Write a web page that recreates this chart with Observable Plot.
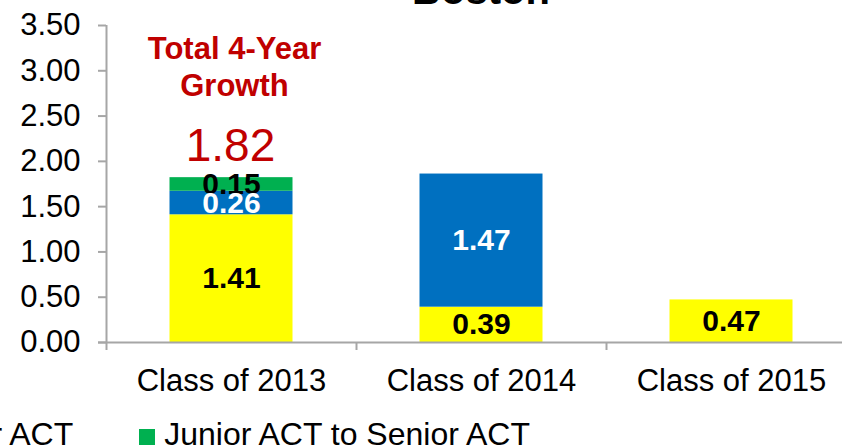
<!DOCTYPE html>
<html>
<head>
<meta charset="utf-8">
<script src="https://cdn.jsdelivr.net/npm/d3@7"></script>
<script src="https://cdn.jsdelivr.net/npm/@observablehq/plot@0.6"></script>
<style>
  html, body { margin: 0; padding: 0; background: #fff; }
  #wrap { position: relative; width: 842px; height: 448px; overflow: hidden; background: #fff;
          font-family: "Liberation Sans", Arial, sans-serif; color: #000; }
  #title { position: absolute; left: 0; top: -30px; width: 962px; text-align: center;
           font-size: 40px; line-height: 40px; font-weight: bold; white-space: nowrap; }
  #chart { position: absolute; left: 0; top: 0; }
  #legend { position: absolute; top: 418px; left: 0; display: flex; gap: 66px; white-space: nowrap;
            font-size: 32px; line-height: 32px; }
  .sw { display: inline-block; width: 16px; height: 16px; margin-right: 9px; }
</style>
</head>
<body>
<div id="wrap">
  <div id="title"></div>
  <div id="chart"></div>
  <div id="legend"></div>
</div>
<script>
// ---- data ----
const chartTitle = "Boston";
const classes = ["Class of 2013", "Class of 2014", "Class of 2015"];
const seriesNames = ["Freshman EXPLORE to Sophomore PLAN", "Sophomore PLAN to Junior ACT", "Junior ACT to Senior ACT"];
const seriesColors = ["#FFFF00", "#0070C0", "#00B050"];
const labelColors = ["#000000", "#FFFFFF", "#000000"];
const explorePlan = [1.41, 0.39, 0.47];
const planAct = [0.26, 1.47, null];
const actAct = [0.15, null, null];
const yTicks = [0, 0.5, 1, 1.5, 2, 2.5, 3, 3.5];
const annotationTitle = "Total 4-Year\nGrowth";
const annotationClass = "Class of 2013";

// ---- build rows ----
const seriesValues = [explorePlan, planAct, actAct];
const rows = [];
seriesValues.forEach((vals, s) => vals.forEach((v, i) => {
  if (v != null) rows.push({cls: classes[i], series: seriesNames[s], value: v, label: labelColors[s]});
}));
const total = d3.sum(rows.filter(r => r.cls === annotationClass), r => r.value);

document.getElementById("title").textContent = chartTitle;

const font = "'Liberation Sans', Arial, sans-serif";
const axisGray = "#a6a6a6";
const halfBand = 125;

const chart = Plot.plot({
  width: 842,
  height: 400,
  marginLeft: 106,
  marginRight: -14,
  marginTop: 25,
  marginBottom: 58,
  style: {fontFamily: font, background: "transparent"},
  x: {type: "band", domain: classes, padding: 0, axis: null, label: null},
  y: {domain: [0, 3.5], axis: null, label: null},
  color: {domain: seriesNames, range: seriesColors},
  marks: [
    Plot.barY(rows, {x: "cls", y: "value", fill: "series", order: seriesNames, insetLeft: 63.5, insetRight: 63.5}),
    Plot.text(rows, Plot.stackY({x: "cls", y: "value", z: "series", order: seriesNames,
      text: d => d.label === "#000000" ? d.value.toFixed(2) : null,
      fill: "#000", fontSize: 30, fontWeight: "bold", fontFamily: font})),
    Plot.text(rows, Plot.stackY({x: "cls", y: "value", z: "series", order: seriesNames,
      text: d => d.label === "#FFFFFF" ? d.value.toFixed(2) : null,
      fill: "#fff", fontSize: 30, fontWeight: "bold", fontFamily: font})),
    // axes
    Plot.axisY(yTicks, {tickFormat: d => d.toFixed(2), tickSize: 8, tickPadding: 18, fontSize: 31,
      stroke: axisGray, strokeWidth: 2, fill: "#000", fontFamily: font, label: null}),
    Plot.ruleX([classes[0]], {x: d => d, dx: -halfBand, stroke: axisGray, strokeWidth: 2}),
    Plot.ruleY([0], {stroke: axisGray, strokeWidth: 2, insetLeft: -8}),
    Plot.ruleX(classes, {x: d => d, dx: -halfBand, y1: 0, y2: 0, insetBottom: -8, stroke: axisGray, strokeWidth: 2}),
    Plot.axisX({tickSize: 0, tickPadding: 26, fontSize: 31, fill: "#000", fontFamily: font, label: null}),
    // annotation
    Plot.text([annotationTitle], {x: () => annotationClass, frameAnchor: "top", text: d => d,
      lineAnchor: "top", dy: 7, dx: 3, fontSize: 31, fontWeight: "bold", lineHeight: 1.19,
      fill: "#C00000", fontFamily: font}),
    Plot.text([total], {x: () => annotationClass, y: d => d, text: d => d.toFixed(2),
      lineAnchor: "bottom", dy: -17, dx: -1, fontSize: 46, fill: "#C00000", fontFamily: font})
  ]
});
document.getElementById("chart").appendChild(chart);

// ---- legend ----
const legend = document.getElementById("legend");
const items = seriesNames.map((name, i) => {
  const item = document.createElement("div");
  const sw = document.createElement("span");
  sw.className = "sw";
  sw.style.background = seriesColors[i];
  item.appendChild(sw);
  item.appendChild(document.createTextNode(name));
  legend.appendChild(item);
  return item;
});
legend.style.left = (139 - items[items.length - 1].offsetLeft) + "px";
</script>
</body>
</html>
